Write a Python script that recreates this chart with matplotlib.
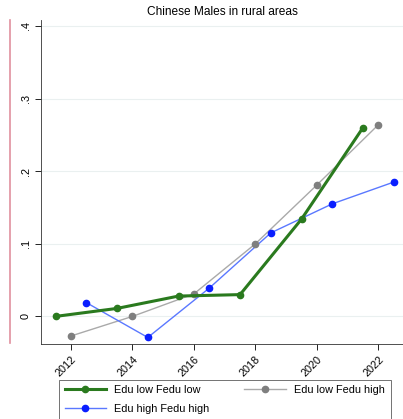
import numpy as np
import matplotlib
matplotlib.use("Agg")
import matplotlib.pyplot as plt
from matplotlib.lines import Line2D

plt.rcParams['font.family'] = ['Liberation Sans', 'DejaVu Sans']

# series: x positions are offset by half a year per group
low_low_x = [2011.5, 2013.5, 2015.5, 2017.5, 2019.5, 2021.5]
low_low_y = [0.000, 0.011, 0.028, 0.030, 0.134, 0.260]

low_high_x = [2012, 2014, 2016, 2018, 2020, 2022]
low_high_y = [-0.027, 0.000, 0.031, 0.100, 0.181, 0.264]

high_high_x = [2012.5, 2014.5, 2016.5, 2018.5, 2020.5, 2022.5]
high_high_y = [0.019, -0.029, 0.039, 0.115, 0.155, 0.185]

xticks = [2012, 2014, 2016, 2018, 2020, 2022]
yticks = [0, 0.1, 0.2, 0.3, 0.4]
ylabels = ['0', '.1', '.2', '.3', '.4']

fig = plt.figure(figsize=(4.03, 4.19), dpi=100)
ax = fig.add_axes([0.102, 0.179, 0.898, 0.773])

for y in yticks:
    ax.axhline(y, color='#eaf0f0', lw=0.8, zorder=0)

ax.plot(low_high_x, low_high_y, color='#aaaaaa', lw=1.0, zorder=2)
ax.plot(low_high_x, low_high_y, 'o', color='#7f7f7f', ms=4.5, zorder=3)
ax.plot(high_high_x, high_high_y, color='#5a78ff', lw=1.0, zorder=2)
ax.plot(high_high_x, high_high_y, 'o', color='#0a1eff', ms=4.5, zorder=3)
ax.plot(low_low_x, low_low_y, color='#2a7a1e', lw=2.2, marker='o', ms=4.5, zorder=4)

ax.set_xlim(2011.03, 2022.8)
ax.set_ylim(-0.038, 0.408)
ax.set_xticks(xticks)
ax.set_xticklabels([str(x) for x in xticks], rotation=45, ha='right', rotation_mode='anchor', fontsize=7.8)
ax.set_yticks(yticks)
ax.set_yticklabels(ylabels, rotation=90, va='center', fontsize=7.8)
ax.tick_params(length=4, width=0.6, colors='black')
for s in ['top', 'right']:
    ax.spines[s].set_visible(False)
for s in ['left', 'bottom']:
    ax.spines[s].set_linewidth(0.6)
    ax.spines[s].set_color('#333333')

fig.text(0.552, 0.971, 'Chinese Males in rural areas', ha='center', va='center', fontsize=8.6)

# pink bar at far left
fig.add_artist(Line2D([0.025, 0.025], [0.182, 0.952], color='#e0909e', lw=1.2))

handles = [
    Line2D([], [], color='#2a7a1e', lw=2.2, marker='o', ms=4.5),
    Line2D([], [], color='#5a78ff', lw=1.0, marker='o', ms=4.5, mfc='#0a1eff', mec='#0a1eff'),
    Line2D([], [], color='#aaaaaa', lw=1.0, marker='o', ms=4.5, mfc='#7f7f7f', mec='#7f7f7f'),
]
labels = ['Edu low Fedu low', 'Edu high Fedu high', 'Edu low Fedu high']
leg = fig.legend(handles, labels, ncol=2, loc='center', bbox_to_anchor=(0.558, 0.0465),
                 fontsize=7.8, frameon=True, fancybox=False, edgecolor='#333333',
                 handlelength=3.8, columnspacing=3.2, borderpad=0.5, labelspacing=0.8)
leg.get_frame().set_linewidth(0.6)

fig.savefig('out.png', dpi=100)
